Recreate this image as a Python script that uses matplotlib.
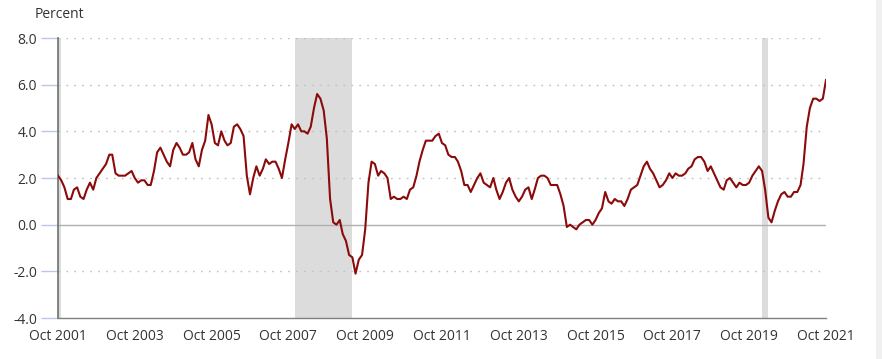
import numpy as np
import pandas as pd
import matplotlib
matplotlib.use("Agg")
import matplotlib.pyplot as plt
from matplotlib.patches import Rectangle

# ================= DATA =================
START = "2001-10-01"

cpi_2001_2005 = [
    2.1, 1.9, 1.6,
    1.1, 1.1, 1.5, 1.6, 1.2, 1.1, 1.5, 1.8, 1.5, 2.0, 2.2, 2.4,
    2.6, 3.0, 3.0, 2.2, 2.1, 2.1, 2.1, 2.2, 2.3, 2.0, 1.8, 1.9,
    1.9, 1.7, 1.7, 2.3, 3.1, 3.3, 3.0, 2.7, 2.5, 3.2, 3.5, 3.3,
    3.0, 3.0, 3.1, 3.5, 2.8, 2.5, 3.2, 3.6, 4.7, 4.3, 3.5, 3.4,
]
cpi_2006_2010 = [
    4.0, 3.6, 3.4, 3.5, 4.2, 4.3, 4.1, 3.8, 2.1, 1.3, 2.0, 2.5,
    2.1, 2.4, 2.8, 2.6, 2.7, 2.7, 2.4, 2.0, 2.8, 3.5, 4.3, 4.1,
    4.3, 4.0, 4.0, 3.9, 4.2, 5.0, 5.6, 5.4, 4.9, 3.7, 1.1, 0.1,
    0.0, 0.2, -0.4, -0.7, -1.3, -1.4, -2.1, -1.5, -1.3, -0.2, 1.8, 2.7,
    2.6, 2.1, 2.3, 2.2, 2.0, 1.1, 1.2, 1.1, 1.1, 1.2, 1.1, 1.5,
]
cpi_2011_2015 = [
    1.6, 2.1, 2.7, 3.2, 3.6, 3.6, 3.6, 3.8, 3.9, 3.5, 3.4, 3.0,
    2.9, 2.9, 2.7, 2.3, 1.7, 1.7, 1.4, 1.7, 2.0, 2.2, 1.8, 1.7,
    1.6, 2.0, 1.5, 1.1, 1.4, 1.8, 2.0, 1.5, 1.2, 1.0, 1.2, 1.5,
    1.6, 1.1, 1.5, 2.0, 2.1, 2.1, 2.0, 1.7, 1.7, 1.7, 1.3, 0.8,
    -0.1, 0.0, -0.1, -0.2, 0.0, 0.1, 0.2, 0.2, 0.0, 0.2, 0.5, 0.7,
]
cpi_2016_2021 = [
    1.4, 1.0, 0.9, 1.1, 1.0, 1.0, 0.8, 1.1, 1.5, 1.6, 1.7, 2.1,
    2.5, 2.7, 2.4, 2.2, 1.9, 1.6, 1.7, 1.9, 2.2, 2.0, 2.2, 2.1,
    2.1, 2.2, 2.4, 2.5, 2.8, 2.9, 2.9, 2.7, 2.3, 2.5, 2.2, 1.9,
    1.6, 1.5, 1.9, 2.0, 1.8, 1.6, 1.8, 1.7, 1.7, 1.8, 2.1, 2.3,
    2.5, 2.3, 1.5, 0.3, 0.1, 0.6, 1.0, 1.3, 1.4, 1.2, 1.2, 1.4,
    1.4, 1.7, 2.6, 4.2, 5.0, 5.4, 5.4, 5.3, 5.4, 6.2,
]

recessions = [("2001-10-01", "2001-11-01"),
              ("2007-12-01", "2009-06-01"),
              ("2020-02-01", "2020-04-01")]

tick_years = list(range(2001, 2022, 2))
y_ticks = [-4, -2, 0, 2, 4, 6, 8]

values = cpi_2001_2005 + cpi_2006_2010 + cpi_2011_2015 + cpi_2016_2021
dates = pd.date_range(START, periods=len(values), freq="MS")

# ================= PLOT =================
plt.rcParams["font.family"] = ["Open Sans", "DejaVu Sans"]
TXT = "#333333"

fig = plt.figure(figsize=(8.82, 3.59), dpi=100)
ax = fig.add_axes([58 / 882, 1 - 318 / 359, (826 - 58) / 882, (318 - 38) / 359])

for a, b in recessions:
    ax.axvspan(pd.Timestamp(a), pd.Timestamp(b), color="#dcdcdc", lw=0, zorder=1)

for y in y_ticks:
    if y == 0:
        ax.axhline(y, color="#b0b0b0", lw=1.0, zorder=2)
    elif y != -4:
        ax.axhline(y, color="#c0c0c0", lw=1.0, ls=(0, (1.2, 4.5)), zorder=2)

ax.plot(dates, values, color="#8b0a0a", lw=1.5, zorder=3)

ax.set_ylim(-4, 8)
ax.set_xlim(pd.Timestamp("2001-10-01"), pd.Timestamp("2021-10-01"))
ax.set_yticks(y_ticks)
ax.set_yticklabels([f"{y:.1f}" for y in y_ticks])
ax.set_xticks([pd.Timestamp(f"{yr}-10-01") for yr in tick_years])
ax.set_xticklabels([f"Oct {yr}" for yr in tick_years])

for s in ["top", "right"]:
    ax.spines[s].set_visible(False)
ax.spines["left"].set_color("#707070")
ax.spines["left"].set_linewidth(1.2)
ax.spines["bottom"].set_color("#808080")
ax.spines["bottom"].set_linewidth(1.0)

ax.tick_params(axis="y", length=12, color="#b8c8e8", width=1, pad=3,
               labelsize=10, labelcolor=TXT)
ax.tick_params(axis="x", length=0, pad=8, labelsize=10, labelcolor=TXT)

fig.text(35 / 882, 1 - 14 / 359, "Percent", fontsize=10, color=TXT,
         va="center", ha="left")

# scrollbar strip at the right edge
fig.patches.append(Rectangle((876 / 882, 0), 6 / 882, 1, transform=fig.transFigure,
                             color="#f0f0f0", lw=0))

fig.savefig("out.png", dpi=100)
